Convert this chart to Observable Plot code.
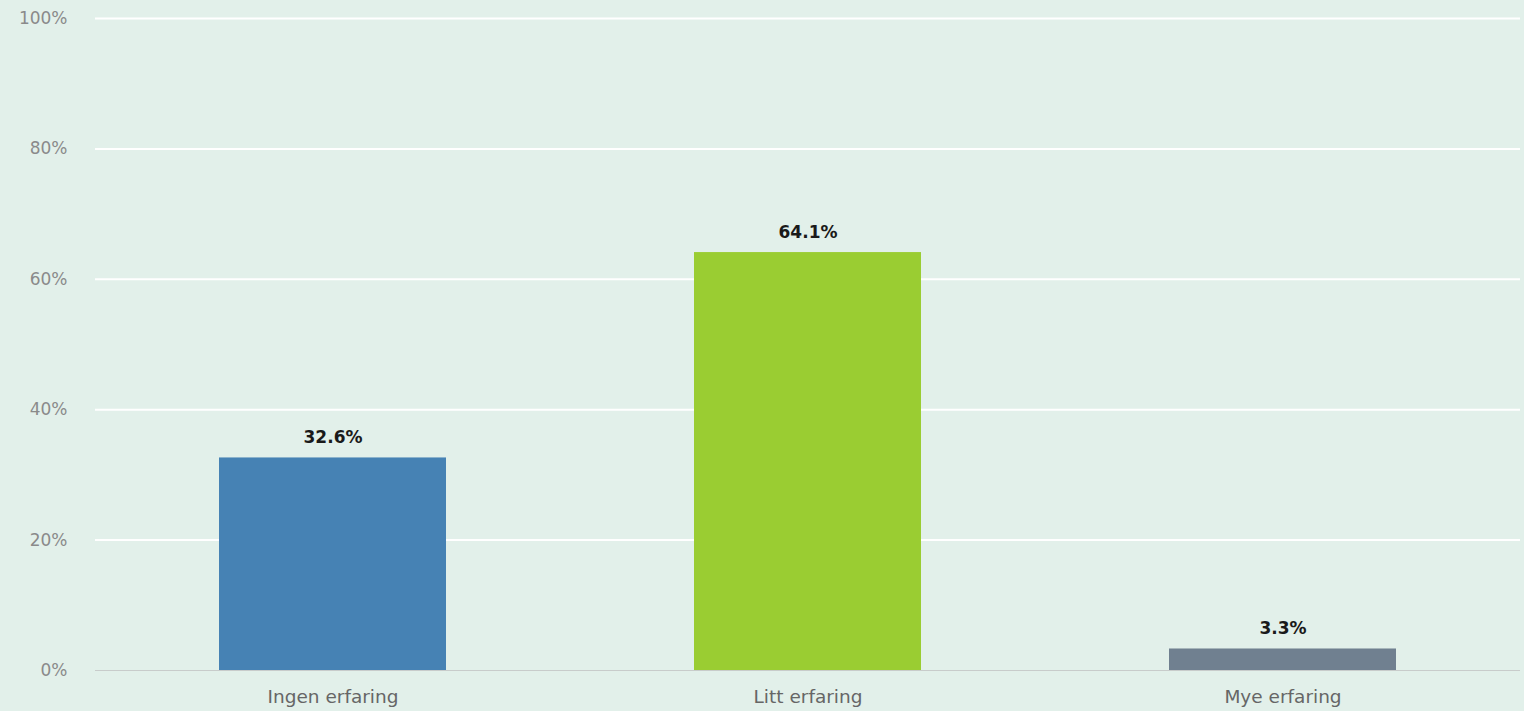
<!DOCTYPE html>
<html>
<head>
<meta charset="utf-8">
<script src="https://cdn.jsdelivr.net/npm/d3@7"></script>
<script src="https://cdn.jsdelivr.net/npm/@observablehq/plot@0.6"></script>
<style>
  html, body { margin: 0; padding: 0; background: #e2f0ea; }
  #chart svg { display: block; }
</style>
</head>
<body>
<div id="chart"></div>
<script>
const categories = ["Ingen erfaring", "Litt erfaring", "Mye erfaring"];
const values = [32.6, 64.1, 3.3];
const colors = ["#4682b4", "#9acd32", "#708090"];
const yTicks = [0, 20, 40, 60, 80, 100];

const data = categories.map((c, i) => ({category: c, value: values[i], color: colors[i]}));

const chart = Plot.plot({
  width: 1524,
  height: 711,
  marginLeft: 95,
  marginRight: 4,
  marginTop: 18,
  marginBottom: 41,
  style: {background: "#e2f0ea", fontFamily: "DejaVu Sans, Verdana, sans-serif"},
  x: {domain: categories, paddingInner: 0.522, paddingOuter: 0.261, label: null},
  y: {domain: [0, 100], label: null},
  marks: [
    Plot.ruleY(yTicks.filter(t => t > 0), {stroke: "#ffffff", strokeWidth: 2}),
    Plot.barY(data, {x: "category", y: "value", fill: "color"}),
    Plot.ruleY([0], {stroke: "#c8cccb", strokeWidth: 1}),
    Plot.text(data, {x: "category", y: "value", text: d => d.value.toFixed(1) + "%", dy: -20, fontWeight: "bold", fontSize: 17, fill: "#1a1a1a"}),
    Plot.axisX({tickSize: 0, tickPadding: 19, fontSize: 18.5, fill: "#666", label: null}),
    Plot.axisY({ticks: yTicks, tickFormat: d => d + "%", tickSize: 0, tickPadding: 28, fontSize: 17, fill: "#8a8a8a", label: null})
  ]
});
document.getElementById("chart").appendChild(chart);
</script>
</body>
</html>
